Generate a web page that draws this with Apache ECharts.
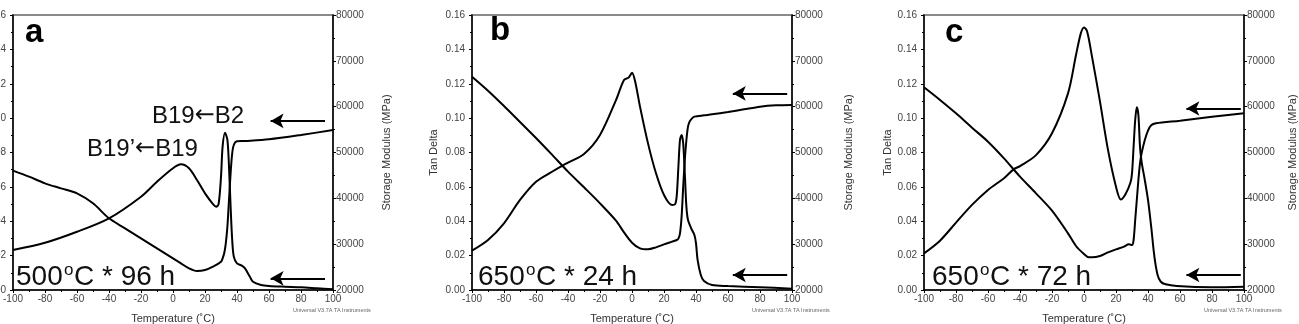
<!DOCTYPE html>
<html>
<head>
<meta charset="utf-8">
<script src="https://cdn.jsdelivr.net/npm/echarts@6/dist/echarts.min.js"></script>
<style>
body{margin:0;background:#fff;}
#main{width:1299px;height:324px;}
</style>
</head>
<body>
<div id="main"></div>
<script>
// axis ranges [min, max, interval]
var xRange = [-100, 100, 20];
var tanRange = [0, 0.16, 0.02];
var modRange = [20000, 80000, 10000];

// a: 500C * 96 h
var aTan = [[-100,0.0233],[-80,0.0275],[-60,0.0339],[-40,0.0417],[-20,0.0543],[-10,0.0630],[0,0.0708],[5,0.0731],[10,0.0708],[15,0.0640],[20,0.0562],[25,0.0500],[27,0.0485],[28.5,0.0500],[30,0.0659],[31,0.0834],[32.5,0.0915],[34,0.0873],[35,0.0718],[36,0.0485],[37,0.0291],[38,0.0194],[40,0.0155],[43,0.0142],[45,0.0126],[48,0.0078],[50,0.0048],[55,0.0029],[60,0.0023],[70,0.0019],[80,0.0016],[90,0.0010],[100,0.0004]];
var aMod = [[-100,46036],[-90,44727],[-80,43273],[-70,42182],[-60,41091],[-50,38909],[-40,35636],[-30,33455],[-20,31273],[-10,29091],[0,26909],[5,25818],[10,24727],[15,24145],[20,24364],[25,25091],[30,26182],[31,26909],[32,28000],[33,30182],[34,33818],[35,39636],[36,45455],[37,49818],[38,51636],[40,52436],[45,52509],[60,52873],[80,53818],[100,54909]];

// b: 650C * 24 h
var bTan = [[-100,0.0229],[-90,0.0291],[-80,0.0388],[-70,0.0524],[-60,0.0630],[-50,0.0688],[-44,0.0721],[-40,0.0741],[-30,0.0791],[-20,0.0902],[-10,0.1105],[-5,0.1222],[-2,0.1237],[0,0.1264],[2,0.1212],[5,0.1067],[10,0.0853],[15,0.0679],[20,0.0553],[25,0.0495],[27,0.0500],[28,0.0553],[29,0.0718],[30,0.0873],[31,0.0902],[32,0.0853],[33,0.0679],[34,0.0485],[35,0.0407],[37,0.0359],[39,0.0320],[40,0.0272],[41,0.0175],[43,0.0087],[45,0.0052],[50,0.0029],[60,0.0023],[80,0.0016],[100,0.0008]];
var bMod = [[-100,66545],[-90,63491],[-80,60145],[-70,56655],[-60,53164],[-50,49527],[-40,45818],[-30,42400],[-20,38909],[-10,35127],[-5,32582],[0,30327],[5,29091],[10,28873],[15,29309],[20,29964],[25,30545],[28,30909],[29,31200],[30,32364],[31,36000],[32,42545],[33,48364],[34,52727],[35,55636],[36,56727],[37,57236],[39,57818],[45,58109],[50,58327],[60,58836],[70,59418],[80,60000],[90,60291],[100,60364]];

// c: 650C * 72 h
var cTan = [[-100,0.0213],[-90,0.0287],[-80,0.0392],[-70,0.0495],[-60,0.0582],[-50,0.0650],[-44,0.0702],[-40,0.0721],[-30,0.0785],[-20,0.0912],[-10,0.1144],[-5,0.1367],[-2,0.1493],[0,0.1528],[2,0.1503],[5,0.1358],[10,0.1096],[15,0.0815],[20,0.0601],[23,0.0527],[26,0.0559],[29,0.0624],[30,0.0679],[31,0.0834],[32,0.0989],[33,0.1063],[34,0.1018],[35,0.0834],[36,0.0746],[38,0.0640],[40,0.0524],[42,0.0368],[44,0.0194],[46,0.0087],[48,0.0048],[51,0.0033],[58,0.0023],[80,0.0016],[100,0.0019]];
var cMod = [[-100,64218],[-90,61455],[-80,58545],[-70,55418],[-60,52364],[-50,48727],[-40,44727],[-30,41091],[-20,37309],[-10,32364],[-5,29600],[0,27855],[3,27127],[5,27127],[10,27418],[15,28218],[20,28873],[25,29455],[28,29964],[30,29818],[31,30909],[32,35273],[33,39636],[34,44000],[35,47636],[36,49818],[38,52727],[40,54764],[42,55927],[45,56364],[60,56945],[80,57818],[100,58545]];

var tanData = [aTan, bTan, cTan];
var modData = [aMod, bMod, cMod];
var letters = ['a', 'b', 'c'];
var anneal = ['500', '650', '650'];
var hours = ['96', '24', '72'];
// arrows [from T, to T, modulus]
var arrowTop = [[95, 61, 56900], [97, 63, 62900], [98, 64, 59600]];
var arrowBot = [[95, 61, 22550], [97, 63, 23270], [98, 64, 23270]];

// layout
var gridLeft = [13, 472, 924];
var gridW = 320, gridTop = 15, gridH = 275;
var letterPos = [[25, 16], [490, 14], [945, 16]];
var textLeft = [16, 478, 932];
var tanGap = [33, 33, 28];
var modGap = [48, 51, 43];

var font = 'Liberation Sans, Arial, sans-serif';
var grids = [], xAxes = [], yAxes = [], series = [], graphics = [];

function arrowLine(a){
	return [{coord:[a[0], a[2]]}, {coord:[a[1], a[2]]}];
}

for(var i=0;i<3;i++){
	grids.push({left:gridLeft[i], top:gridTop, width:gridW, height:gridH, show:true,
		outerBoundsMode:'none', containLabel:false,
		borderColor:'#8a8a8a', borderWidth:2, backgroundColor:'transparent'});
	xAxes.push({
		type:'value', gridIndex:i, min:xRange[0], max:xRange[1], interval:xRange[2],
		name:'Temperature (˚C)', nameLocation:'middle', nameGap:23,
		nameTextStyle:{fontSize:11, color:'#333', fontFamily:font},
		axisLine:{onZero:false, lineStyle:{color:'#000', width:1.5}},
		axisTick:{length:3, lineStyle:{color:'#000'}},
		minorTick:{show:true, splitNumber:2, length:2, lineStyle:{color:'#000'}},
		splitLine:{show:false},
		axisLabel:{fontSize:10, color:'#444', margin:4, fontFamily:font,
			formatter:function(v){ return String(v); }}
	});
	yAxes.push({
		type:'value', gridIndex:i, position:'left', min:tanRange[0], max:tanRange[1], interval:tanRange[2],
		name:'Tan Delta', nameLocation:'middle', nameGap:tanGap[i],
		nameTextStyle:{fontSize:11, color:'#333', fontFamily:font},
		axisLine:{show:true, onZero:false, lineStyle:{color:'#000', width:1.5}},
		axisTick:{show:true, length:3, lineStyle:{color:'#000'}},
		minorTick:{show:true, splitNumber:2, length:2, lineStyle:{color:'#000'}},
		splitLine:{show:false},
		axisLabel:{fontSize:10, color:'#444', margin:7, fontFamily:font,
			formatter:function(v){ return v.toFixed(2); }}
	});
	yAxes.push({
		type:'value', gridIndex:i, position:'right', min:modRange[0], max:modRange[1], interval:modRange[2],
		name:'Storage Modulus (MPa)', nameLocation:'middle', nameGap:modGap[i],
		nameTextStyle:{fontSize:11, color:'#333', fontFamily:font},
		axisLine:{show:true, onZero:false, lineStyle:{color:'#000', width:1.5}},
		axisTick:{show:true, length:3, lineStyle:{color:'#000'}},
		minorTick:{show:true, splitNumber:2, length:2, lineStyle:{color:'#000'}},
		splitLine:{show:false},
		axisLabel:{fontSize:10, color:'#444', margin:3, fontFamily:font,
			formatter:function(v){ return String(v); }}
	});
	series.push({
		type:'line', xAxisIndex:i, yAxisIndex:2*i, data:tanData[i],
		showSymbol:false, smooth:0.3, lineStyle:{color:'#000', width:2}, silent:true
	});
	series.push({
		type:'line', xAxisIndex:i, yAxisIndex:2*i+1, data:modData[i],
		showSymbol:false, smooth:0.3, lineStyle:{color:'#000', width:2}, silent:true,
		markLine:{
			silent:true, symbol:['none', 'arrow'], symbolSize:[11, 13],
			label:{show:false},
			lineStyle:{color:'#000', width:2, type:'solid'},
			data:[arrowLine(arrowTop[i]), arrowLine(arrowBot[i])]
		}
	});
	graphics.push({
		type:'text', left:letterPos[i][0], top:letterPos[i][1],
		style:{text:letters[i], font:'bold 33px ' + font, fill:'#000'}
	});
	// heat treatment label, "o" drawn as a raised small letter
	var tx = textLeft[i];
	graphics.push({
		type:'text', left:tx, top:263,
		style:{text:anneal[i], font:'28px ' + font, fill:'#111'}
	});
	graphics.push({
		type:'text', left:tx + 48, top:262,
		style:{text:'o', font:'17px ' + font, fill:'#111'}
	});
	graphics.push({
		type:'text', left:tx + 58, top:263,
		style:{text:'C * ' + hours[i] + ' h', font:'28px ' + font, fill:'#111'}
	});
	graphics.push({
		type:'text', left:gridLeft[i] + gridW - 40, top:307,
		style:{text:'Universal V3.7A TA Instruments', font:'5.5px ' + font, fill:'#666'}
	});
}

graphics.push({
	type:'text', left:152, top:104,
	style:{
		text:'{t|B19}{r|\u2190}{t|B2}',
		rich:{
			t:{fontSize:24, fontFamily:font, fill:'#111'},
			r:{fontSize:24, fontFamily:'DejaVu Sans', fill:'#111'}
		}
	}
});
graphics.push({
	type:'text', left:87, top:137,
	style:{
		text:'{t|B19\u2019}{r|\u2190}{t|B19}',
		rich:{
			t:{fontSize:24, fontFamily:font, fill:'#111'},
			r:{fontSize:24, fontFamily:'DejaVu Sans', fill:'#111'}
		}
	}
});

var myChart = echarts.init(document.getElementById('main'));
var option = {
	animation:false,
	backgroundColor:'#fff',
	grid:grids,
	xAxis:xAxes,
	yAxis:yAxes,
	series:series,
	graphic:graphics
};
myChart.setOption(option);
</script>
</body>
</html>
